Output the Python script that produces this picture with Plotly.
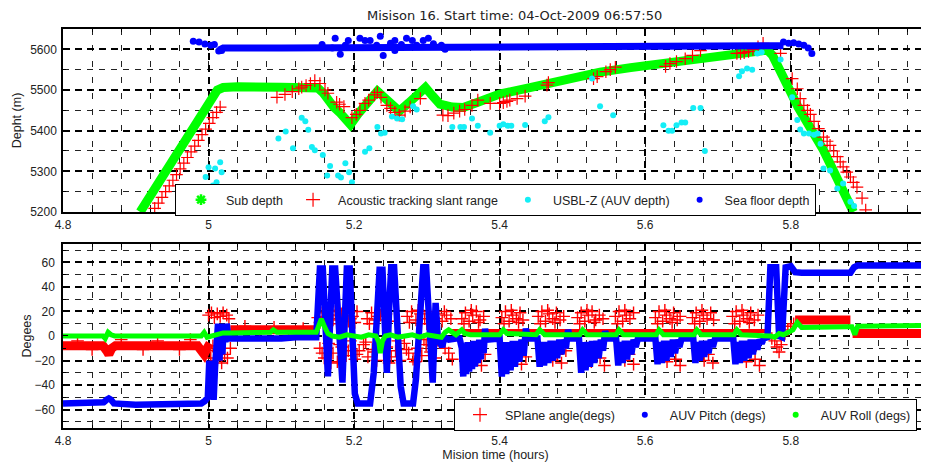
import plotly.graph_objects as go

# ---------------- top panel: depths (m) vs mission time (h) ----------------
sub_t = [4.906, 4.930, 4.950, 4.975, 5.000, 5.006, 5.012, 5.020, 5.040, 5.100, 5.150, 5.158,
         5.166, 5.172, 5.180, 5.188, 5.195, 5.205, 5.220, 5.232, 5.240, 5.250, 5.262, 5.275,
         5.290, 5.298, 5.308, 5.318, 5.335, 5.350, 5.370, 5.400, 5.440, 5.470, 5.500, 5.538,
         5.580, 5.620, 5.660, 5.690, 5.730, 5.768, 5.775, 5.782, 5.790, 5.800, 5.810, 5.845, 5.886]
sub_depth = [5200, 5270, 5328, 5400, 5473, 5490, 5500, 5506, 5508, 5507, 5505, 5492,
             5470, 5458, 5445, 5428, 5415, 5440, 5472, 5497, 5484, 5465, 5448, 5468,
             5495, 5506, 5485, 5465, 5458, 5457, 5470, 5490, 5505, 5518, 5530, 5544,
             5555, 5565, 5572, 5580, 5590, 5598, 5585, 5557, 5527, 5495, 5458, 5352, 5200]

slant_t = [4.926, 4.931, 4.936, 4.941, 4.946, 4.951, 4.956, 4.961, 4.966, 4.971, 4.976, 4.981,
           4.986, 4.991, 4.996, 5.001, 5.006, 5.011, 5.016,
           5.094, 5.105, 5.115, 5.124, 5.128, 5.134, 5.140, 5.146, 5.153, 5.160, 5.164, 5.176,
           5.180, 5.186, 5.197, 5.203, 5.208, 5.215, 5.220, 5.228, 5.232, 5.237, 5.245, 5.250,
           5.256, 5.262, 5.270, 5.277, 5.291, 5.322, 5.329, 5.337, 5.345, 5.352, 5.362, 5.370,
           5.387, 5.400, 5.405, 5.410, 5.414, 5.424, 5.435, 5.465, 5.467, 5.529, 5.534, 5.546,
           5.552, 5.559, 5.628, 5.634, 5.643, 5.655, 5.665, 5.676, 5.726, 5.731, 5.736, 5.742,
           5.748, 5.755, 5.762, 5.786, 5.802, 5.809, 5.813, 5.818, 5.823, 5.827, 5.832, 5.838,
           5.845, 5.850, 5.854, 5.859, 5.864, 5.868, 5.872, 5.877, 5.882, 5.886, 5.891, 5.898, 5.903]
slant_range = [5209, 5222, 5236, 5250, 5264, 5278, 5292, 5306, 5320, 5334, 5348, 5362,
               5376, 5390, 5404, 5418, 5432, 5445, 5458,
               5482, 5489, 5496, 5503, 5507, 5511, 5516, 5523, 5516, 5500, 5492, 5470,
               5465, 5459, 5432, 5440, 5450, 5467, 5475, 5488, 5494, 5482, 5462, 5455,
               5445, 5438, 5448, 5458, 5479, 5438, 5437, 5443, 5448, 5452, 5462, 5475,
               5467, 5467, 5469, 5472, 5475, 5479, 5485, 5512, 5518, 5528, 5533, 5545,
               5550, 5556, 5558, 5565, 5570, 5577, 5585, 5597, 5590, 5590, 5592, 5595,
               5600, 5606, 5615, 5590, 5528, 5503, 5479, 5462, 5450, 5440, 5423, 5405,
               5384, 5374, 5364, 5350, 5336, 5323, 5311, 5298, 5286, 5273, 5261, 5234, 5205]

usbl_t = [4.996, 5.000, 5.006, 5.009, 5.011, 5.016, 5.018, 5.096, 5.106, 5.116, 5.128, 5.133,
          5.137, 5.142, 5.146, 5.157, 5.163, 5.167, 5.178, 5.182, 5.188, 5.193, 5.197, 5.215,
          5.221, 5.232, 5.237, 5.242, 5.252, 5.259, 5.266, 5.281, 5.286, 5.335, 5.346, 5.351,
          5.362, 5.370, 5.387, 5.400, 5.405, 5.411, 5.416, 5.435, 5.462, 5.467, 5.527, 5.538,
          5.556, 5.625, 5.632, 5.637, 5.643, 5.650, 5.655, 5.666, 5.676, 5.682, 5.729, 5.733,
          5.740, 5.747, 5.754, 5.760, 5.786, 5.802, 5.809, 5.813, 5.818, 5.825, 5.832, 5.837,
          5.841, 5.845, 5.854, 5.864, 5.872, 5.882, 5.887]
usbl_z = [5286, 5310, 5265, 5307, 5273, 5322, 5298, 5381, 5398, 5357, 5432, 5423,
          5402, 5360, 5352, 5340, 5290, 5313, 5290, 5285, 5320, 5298, 5273, 5348,
          5357, 5409, 5393, 5395, 5435, 5430, 5428, 5460, 5452, 5409, 5409, 5409,
          5430, 5412, 5395, 5412, 5416, 5412, 5412, 5414, 5423, 5433, 5528, 5460,
          5438, 5413, 5400, 5400, 5413, 5420, 5420, 5456, 5456, 5350, 5534, 5546,
          5553, 5550, 5590, 5593, 5575, 5482, 5426, 5403, 5393, 5393, 5390, 5393,
          5368, 5307, 5302, 5258, 5270, 5225, 5215]

floor_t = [5.014, 5.020, 5.100, 5.300, 5.500, 5.650, 5.750, 5.790]
floor_depth = [5598, 5603, 5603, 5604, 5605, 5606, 5607, 5609]
floor_pts_t = [4.979, 4.987, 4.995, 5.003, 5.008, 5.014, 5.018, 5.156, 5.170, 5.174, 5.181,
               5.188, 5.192, 5.208, 5.215, 5.222, 5.231, 5.236, 5.240, 5.250, 5.256, 5.256,
               5.265, 5.272, 5.280, 5.286, 5.295, 5.302, 5.309, 5.320, 5.325, 5.790, 5.797,
               5.804, 5.811, 5.818, 5.824, 5.829]
floor_pts_d = [5620, 5618, 5613, 5610, 5612, 5596, 5597, 5612, 5603, 5627, 5588,
               5610, 5622, 5627, 5622, 5622, 5610, 5632, 5585, 5615, 5622, 5597,
               5612, 5627, 5622, 5610, 5622, 5627, 5614, 5610, 5600, 5618, 5615,
               5616, 5613, 5610, 5603, 5590]
floor_end_t = [5.982, 5.9886]
floor_end_d = [5652, 5598]

# ---------------- bottom panel: angles (deg) ----------------
pitch_t = [4.800, 4.850, 4.856, 4.860, 4.863, 4.866, 4.870, 4.900, 4.950, 4.990, 4.995, 4.999,
           5.001, 5.003, 5.005, 5.007, 5.009, 5.011, 5.013, 5.015, 5.017, 5.019, 5.021, 5.023,
           5.025, 5.027, 5.030, 5.100, 5.120, 5.148,
           5.151, 5.153, 5.157, 5.160, 5.164, 5.167, 5.170, 5.174, 5.178, 5.184, 5.187, 5.190,
           5.194, 5.197, 5.201, 5.205, 5.222, 5.227, 5.232, 5.235, 5.239, 5.242, 5.245, 5.248,
           5.251, 5.255, 5.259, 5.264, 5.268, 5.281, 5.285, 5.291, 5.295, 5.299, 5.303, 5.308,
           5.312, 5.315, 5.318, 5.321, 5.324, 5.330, 5.340,
           5.345, 5.348, 5.350, 5.352, 5.354, 5.356, 5.358, 5.360, 5.362, 5.364, 5.366, 5.368,
           5.370, 5.372, 5.374, 5.376, 5.378, 5.380, 5.382,
           5.400, 5.403, 5.406, 5.409, 5.412, 5.415, 5.418, 5.421, 5.424, 5.427, 5.430, 5.433,
           5.436, 5.439,
           5.452, 5.455, 5.458, 5.461, 5.464, 5.467, 5.470, 5.473, 5.476, 5.479, 5.482, 5.485,
           5.488, 5.491, 5.494, 5.497,
           5.509, 5.512, 5.515, 5.518, 5.521, 5.524, 5.527, 5.530, 5.533, 5.536, 5.539, 5.542,
           5.545, 5.548,
           5.560, 5.563, 5.566, 5.569, 5.572, 5.575, 5.578, 5.581, 5.584, 5.587, 5.590,
           5.614, 5.617, 5.620, 5.623, 5.626, 5.629, 5.632, 5.635, 5.638, 5.641, 5.644, 5.647,
           5.650,
           5.666, 5.669, 5.672, 5.675, 5.678, 5.681, 5.684, 5.687, 5.690, 5.693, 5.696,
           5.721, 5.724, 5.727, 5.730, 5.733, 5.736, 5.739, 5.742, 5.745, 5.748, 5.751, 5.754,
           5.757, 5.760, 5.763,
           5.768, 5.772, 5.780, 5.784, 5.788, 5.793, 5.800, 5.806, 5.815, 5.882, 5.887, 5.892,
           5.9886]
pitch_deg = [-55, -55, -54, -52, -51, -52, -55, -56, -55, -55, -53, -50,
             -20, -48, -30, -52, -25, -5, 10, -20, 8, -15, 10, -5,
             10, 0, -2, -2, -1, -1,
             30, 55, 55, 20, -33, 10, 55, 55, 20, -38, 10, 55,
             55, 20, -47, -55, -55, -30, 30, 54, 54, 20, -30, 20,
             56, 56, 10, -41, -55, -55, -35, 30, 56, 56, 10, -38,
             27, -1, -5, -9, -1, -3, -2,
             -2, -10, -33, -6, -31, -5, -29, -5, -27, -4, -25, -4,
             -22, -3, -19, -3, -14, 6, -3,
             -2, -33, -5, -31, -5, -28, -4, -25, -4, -21, -3, -16,
             6, -2,
             -2, -25, -5, -24, -5, -22, -4, -20, -4, -18, -3, -15,
             -3, -10, 5, -2,
             -2, -30, -5, -28, -5, -25, -4, -22, -4, -18, -3, -12,
             4, -2,
             -2, -24, -5, -22, -4, -19, -4, -15, -3, -9, -2,
             -2, -23, -5, -22, -4, -20, -4, -17, -3, -14, -3, -9,
             -2,
             -2, -22, -5, -20, -4, -17, -4, -14, -3, -9, -2,
             -2, -23, -5, -22, -4, -20, -4, -18, -3, -15, -3, -11,
             -3, -6, -2,
             -1, 56, 56, 0, -1, 56, 57, 52, 51.5, 51.5, 56, 57.5,
             57.5]

roll_t = [4.800, 4.855, 4.858, 4.862, 4.866, 4.871, 4.990, 4.994, 4.998, 5.003, 5.010, 5.020,
          5.030, 5.085, 5.089, 5.094, 5.148, 5.152, 5.155, 5.159, 5.164, 5.170, 5.180, 5.190,
          5.200, 5.210, 5.220, 5.230, 5.234, 5.236, 5.239, 5.243, 5.250, 5.260, 5.270, 5.280,
          5.290, 5.300, 5.310, 5.320, 5.325, 5.330, 5.340, 5.348, 5.352, 5.360, 5.400, 5.405,
          5.410, 5.450, 5.455, 5.462, 5.510, 5.514, 5.520, 5.560, 5.564, 5.570, 5.615, 5.619,
          5.625, 5.667, 5.671, 5.677, 5.722, 5.726, 5.732, 5.765, 5.772, 5.778, 5.784, 5.790,
          5.797, 5.803, 5.809, 5.815, 5.880, 5.884, 5.888, 5.892, 5.9886]
roll_deg = [0, 0, -2, 3, 1, 0, 0, 3, -1, 0, 1, 2.5,
            2.5, 3, 5, 3, 3, 9, 14, 8, 2, 0, -1, 1,
            0, -1, 1, 0, -5, -14, -4, 0, 1, -1, 0, 1,
            -1, 1, 0, -1, 3, 5, 1, 5, 2, 1, 1, 5,
            2, 1, 5, 1, 1, 5, 1, 1, 5, 1, 1, 5,
            1, 1, 5, 1, 1, 5, 1, 1, 0, -1, 2, 1,
            3, 5, 11, 7, 7.5, 7.5, 1, 8, 8.5]

splane_band_t = [4.800, 4.855, 4.860, 4.863, 4.867, 4.872, 4.985, 4.990, 4.994, 4.998, 5.002,
                 None, 5.030, 5.148, None, 5.806, 5.882, None, 5.885, 5.9886]
splane_band_deg = [-8, -8, -12, -15, -10, -8, -8, -12, -15, -10, -6,
                   None, 5, 5, None, 13, 13, None, 2, 2]
splane_base_t = [5.330, 5.770]
splane_base_deg = [4, 4]

splane_pts_t = [4.820, 4.840, 4.880, 4.910, 4.930, 4.960, 4.975,
                5.000, 5.004, 5.008, 5.012, 5.016, 5.020, 5.025, 5.028, 4.998, 5.003, 5.006,
                5.010, 5.014, 5.018, 5.022, 5.026, 5.030, 5.050, 5.070, 5.090, 5.110, 5.130,
                5.150, 5.156, 5.162, 5.168, 5.174, 5.180, 5.186, 5.192, 5.198, 5.204,
                5.153, 5.159, 5.165, 5.171, 5.177, 5.183, 5.189, 5.195, 5.201,
                5.218, 5.224, 5.230, 5.236, 5.242, 5.247, 5.221, 5.233, 5.244,
                5.273, 5.279, 5.285, 5.291, 5.297, 5.303, 5.309, 5.315, 5.321, 5.327, 5.333,
                5.276, 5.288, 5.300, 5.312, 5.324,
                5.153, 5.159, 5.165, 5.171, 5.177, 5.183, 5.189, 5.195, 5.201, 5.207, 5.213,
                5.219, 5.225, 5.231, 5.156, 5.168, 5.180, 5.192, 5.204, 5.216, 5.228,
                5.245, 5.251, 5.257, 5.263, 5.269, 5.275, 5.281, 5.287, 5.293, 5.299, 5.305,
                5.311, 5.318, 5.325, 5.330, 5.335, 5.248, 5.260, 5.272, 5.284, 5.296, 5.308,
                5.348, 5.353, 5.358, 5.363, 5.368, 5.373, 5.378, 5.351, 5.361, 5.371,
                5.403, 5.408, 5.413, 5.418, 5.423, 5.428, 5.432, 5.406, 5.416, 5.426,
                5.453, 5.458, 5.463, 5.468, 5.473, 5.478, 5.483, 5.488, 5.456, 5.466, 5.476,
                5.507, 5.512, 5.517, 5.522, 5.527, 5.532, 5.537, 5.542, 5.510, 5.520, 5.530,
                5.559, 5.564, 5.569, 5.574, 5.579, 5.584, 5.562, 5.572,
                5.614, 5.619, 5.624, 5.629, 5.634, 5.639, 5.644, 5.648, 5.617, 5.627, 5.637,
                5.665, 5.670, 5.675, 5.680, 5.685, 5.690, 5.694, 5.668, 5.678,
                5.720, 5.725, 5.730, 5.735, 5.740, 5.745, 5.750, 5.755, 5.723, 5.733, 5.743,
                5.355, 5.360, 5.365, 5.370, 5.375, 5.380,
                5.412, 5.418, 5.424, 5.430, 5.436,
                5.467, 5.473, 5.479, 5.485, 5.491,
                5.520, 5.526, 5.532, 5.538, 5.544,
                5.566, 5.572, 5.578, 5.584,
                5.624, 5.630, 5.636, 5.642, 5.648,
                5.675, 5.681, 5.687, 5.693,
                5.733, 5.739, 5.745, 5.751, 5.757,
                5.774, 5.778, 5.781, 5.784, 5.787, 5.792, 5.796, 5.800, 5.804]
splane_pts_deg = [-4, -11, -3, -11, -4, -11, -3,
                  17, 19, 15, 18, 16, 19, 17, 14, -12, -18, -8,
                  -20, -13, -22, -15, -18, -10, 8, 3, 7, 2, 6,
                  15, 19, 12, 17, 20, 14, 18, 12, 16, 20,
                  11, 16, 21, 13, 10, 18, 21, 14, 11,
                  14, 19, 13, 17, 20, 12, 10, 16, 18,
                  16, 20, 13, 18, 14, 20, 15, 18, 12, 17, 14,
                  11, 21, 10, 14, 20,
                  -10, -18, -6, -14, -21, -9, -16, -4, -19, -12, -7,
                  -17, -11, -20, -14, -22, -7, -12, -15, -5, -13,
                  -9, -17, -12, -20, -6, -14, -19, -10, -16, -7, -13,
                  -18, -5, -10, -14, -19, -22, -4, -11, -21, -3, -8,
                  14, 19, 12, 17, 20, 13, 16, 10, 21, 11,
                  15, 20, 12, 17, 14, 19, 13, 10, 21, 11,
                  16, 20, 12, 18, 14, 19, 13, 16, 10, 21, 11,
                  15, 19, 12, 17, 20, 13, 17, 14, 10, 21, 11,
                  16, 20, 12, 17, 14, 19, 10, 21,
                  15, 20, 12, 17, 14, 19, 13, 16, 10, 21, 11,
                  15, 19, 12, 17, 14, 19, 13, 10, 21,
                  16, 20, 12, 17, 14, 19, 13, 17, 10, 21, 11,
                  -14, -22, -12, -18, -24, -15,
                  -12, -20, -14, -23, -17,
                  -13, -20, -15, -22, -12,
                  -14, -21, -12, -18, -24,
                  -13, -20, -15, -23,
                  -14, -21, -12, -19, -24,
                  -13, -20, -15, -22,
                  -14, -21, -12, -19, -24,
                  -2, -4, -9, -13, -7, 2, 5, 8, 10]

x_ticks = [4.8, 5.0, 5.2, 5.4, 5.6, 5.8]
x_tick_text = ["4.8", "5", "5.2", "5.4", "5.6", "5.8"]

GREEN = "#00ff00"
RED = "#ff0000"
CYAN = "#14eef6"
BLUE = "#0000ff"
FONT = "Liberation Sans, Arial, sans-serif"
TXT = "#222"

# The page body adds an 8 px margin, so the figure is 8 px smaller and the
# margins are 8 px smaller than the reference pixel positions.
W, H = 921, 458
ML, MR, MT, MB = 55, 1, 21, 38
PH = H - MT - MB  # 399

fig = go.Figure()

# top panel traces
fig.add_trace(go.Scatter(x=sub_t, y=sub_depth, mode="lines", line=dict(color=GREEN, width=9),
                         showlegend=False, xaxis="x", yaxis="y", hoverinfo="skip"))
fig.add_trace(go.Scatter(x=slant_t, y=slant_range, mode="markers",
                         marker=dict(symbol="cross-thin", size=9, line=dict(color=RED, width=1.2)),
                         showlegend=False, xaxis="x", yaxis="y"))
fig.add_trace(go.Scatter(x=usbl_t, y=usbl_z, mode="markers",
                         marker=dict(symbol="circle", size=6, color=CYAN),
                         showlegend=False, xaxis="x", yaxis="y"))
fig.add_trace(go.Scatter(x=floor_t, y=floor_depth, mode="lines", line=dict(color=BLUE, width=7),
                         showlegend=False, xaxis="x", yaxis="y"))
fig.add_trace(go.Scatter(x=floor_pts_t, y=floor_pts_d, mode="markers",
                         marker=dict(symbol="circle", size=7, color=BLUE),
                         showlegend=False, xaxis="x", yaxis="y"))
fig.add_trace(go.Scatter(x=floor_end_t, y=floor_end_d, mode="lines", line=dict(color=BLUE, width=5),
                         showlegend=False, xaxis="x", yaxis="y"))

# top legend entries
fig.add_trace(go.Scatter(x=[None], y=[None], mode="markers", name="Sub depth",
                         marker=dict(symbol="asterisk", size=9, line=dict(color=GREEN, width=2.5)),
                         xaxis="x", yaxis="y", legend="legend"))
fig.add_trace(go.Scatter(x=[None], y=[None], mode="markers", name="Acoustic tracking slant range",
                         marker=dict(symbol="cross-thin", size=10, line=dict(color=RED, width=1.2)),
                         xaxis="x", yaxis="y", legend="legend"))
fig.add_trace(go.Scatter(x=[None], y=[None], mode="markers", name="USBL-Z (AUV depth)",
                         marker=dict(symbol="circle", size=6, color=CYAN),
                         xaxis="x", yaxis="y", legend="legend"))
fig.add_trace(go.Scatter(x=[None], y=[None], mode="markers", name="Sea floor depth",
                         marker=dict(symbol="circle", size=6, color=BLUE),
                         xaxis="x", yaxis="y", legend="legend"))

# bottom panel traces
fig.add_trace(go.Scatter(x=splane_band_t, y=splane_band_deg, mode="lines",
                         line=dict(color=RED, width=9), showlegend=False,
                         xaxis="x2", yaxis="y2", connectgaps=False))
fig.add_trace(go.Scatter(x=splane_base_t, y=splane_base_deg, mode="lines",
                         line=dict(color=RED, width=4), showlegend=False,
                         xaxis="x2", yaxis="y2"))
fig.add_trace(go.Scatter(x=splane_pts_t, y=splane_pts_deg, mode="markers",
                         marker=dict(symbol="cross-thin", size=9, line=dict(color=RED, width=1.4)),
                         showlegend=False, xaxis="x2", yaxis="y2"))
fig.add_trace(go.Scatter(x=pitch_t, y=pitch_deg, mode="lines", line=dict(color=BLUE, width=6.5),
                         showlegend=False, xaxis="x2", yaxis="y2"))
fig.add_trace(go.Scatter(x=roll_t, y=roll_deg, mode="lines", line=dict(color=GREEN, width=5),
                         showlegend=False, xaxis="x2", yaxis="y2"))

# bottom legend entries
fig.add_trace(go.Scatter(x=[None], y=[None], mode="markers", name="SPlane angle(degs)",
                         marker=dict(symbol="cross-thin", size=10, line=dict(color=RED, width=1.2)),
                         xaxis="x2", yaxis="y2", legend="legend2"))
fig.add_trace(go.Scatter(x=[None], y=[None], mode="markers", name="AUV Pitch (degs)",
                         marker=dict(symbol="circle", size=6, color=BLUE),
                         xaxis="x2", yaxis="y2", legend="legend2"))
fig.add_trace(go.Scatter(x=[None], y=[None], mode="markers", name="AUV Roll (degs)",
                         marker=dict(symbol="circle", size=6, color=GREEN),
                         xaxis="x2", yaxis="y2", legend="legend2"))

X_RANGE = [4.8, 5.9886]
GRID_MAJOR = dict(showgrid=True, gridcolor="black", gridwidth=1.6, griddash="7px,5px")
FRAME = dict(ticks="inside", ticklen=5, tickcolor="black", showline=True, linecolor="black",
             linewidth=1.5, mirror="ticks", zeroline=False)


def xaxis_cfg(anchor, title=None):
    d = dict(domain=[0, 1], anchor=anchor, range=X_RANGE, tickvals=x_ticks, ticktext=x_tick_text,
             tickfont=dict(family=FONT, size=12, color=TXT), ticklabelstandoff=1,
             minor=dict(tick0=4.8, dtick=0.04, showgrid=True, gridcolor="#222", gridwidth=1,
                        griddash="6px,10px", ticks="inside", ticklen=3, tickcolor="black"),
             **GRID_MAJOR, **FRAME)
    if title:
        d["title"] = dict(text=title, font=dict(family=FONT, size=12.5, color=TXT), standoff=1)
    return d


def py_to_paper(py_page):
    # convert a page pixel row (reference) to paper y
    return (MT + PH + 8 - py_page) / PH


fig.update_layout(
    width=W, height=H,
    margin=dict(l=ML, r=MR, t=MT, b=MB, autoexpand=False),
    paper_bgcolor="white", plot_bgcolor="white",
    font=dict(family=FONT, size=12, color=TXT),
    title=dict(text="Misison 16. Start time: 04-Oct-2009 06:57:50", x=(367 - 8) / W,
               xref="container", xanchor="left", y=1 - 7.5 / H, yref="container", yanchor="middle",
               font=dict(family="DejaVu Sans, sans-serif", size=13, color=TXT)),
    xaxis=xaxis_cfg("y"),
    yaxis=dict(domain=[0.5414, 1], anchor="x", range=[5200, 5650], tick0=5200, dtick=100,
               tickfont=dict(family=FONT, size=12, color=TXT), ticklabelstandoff=2,
               title=dict(text="Depht (m)", font=dict(family=FONT, size=12.5, color=TXT), standoff=6),
               minor=dict(dtick=50, showgrid=True, gridcolor="#222", gridwidth=1,
                          griddash="6px,6px", ticks="inside", ticklen=3, tickcolor="black"),
               **GRID_MAJOR, **FRAME),
    xaxis2=xaxis_cfg("y2", "Mision time (hours)"),
    yaxis2=dict(domain=[0, 0.4612], anchor="x2", range=[-75, 75], tick0=0, dtick=20,
                tickfont=dict(family=FONT, size=12, color=TXT), ticklabelstandoff=4,
                title=dict(text="Degees", font=dict(family=FONT, size=12.5, color=TXT), standoff=0),
                minor=dict(dtick=10, showgrid=True, gridcolor="#222", gridwidth=1,
                           griddash="6px,6px", ticks="inside", ticklen=3, tickcolor="black"),
                **GRID_MAJOR, **FRAME),
    legend=dict(orientation="h", x=(175 - 63) / 865, y=py_to_paper(184), xanchor="left",
                yanchor="top", bgcolor="white", bordercolor="black", borderwidth=1,
                font=dict(family=FONT, size=12.5, color=TXT), itemwidth=40),
    legend2=dict(orientation="h", x=(454 - 63) / 865, y=py_to_paper(399), xanchor="left",
                 yanchor="top", bgcolor="white", bordercolor="black", borderwidth=1,
                 font=dict(family=FONT, size=12.5, color=TXT), itemwidth=40),
    showlegend=True,
)

fig.write_html("out.html")
